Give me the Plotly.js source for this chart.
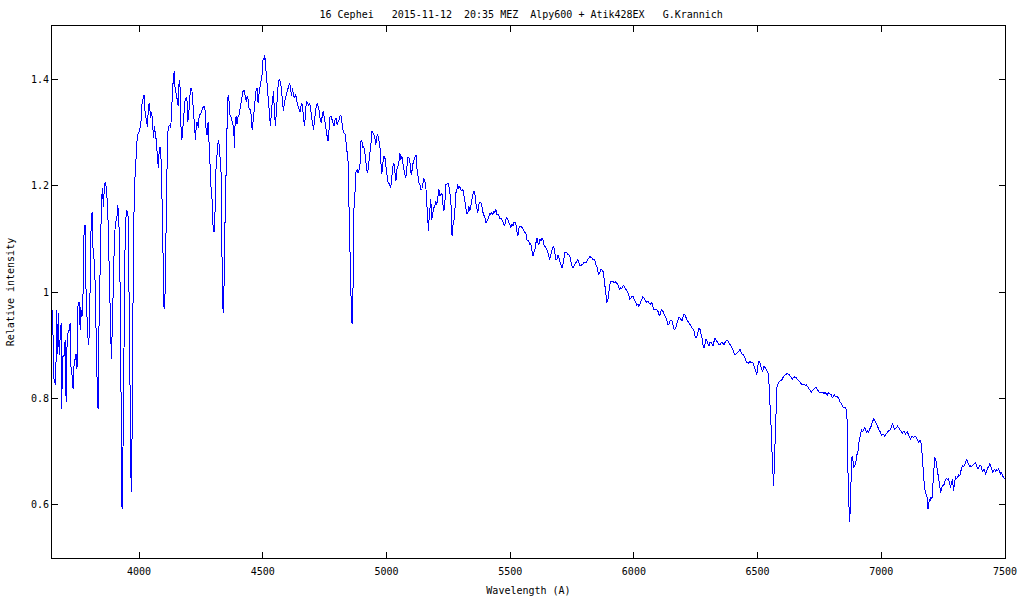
<!DOCTYPE html>
<html>
<head>
<meta charset="utf-8">
<script src="https://cdn.plot.ly/plotly-3.0.1.min.js"></script>
<style>
html,body{margin:0;padding:0;background:#fff;}
#chart{width:1024px;height:600px;}
.scatterlayer .js-line{shape-rendering:crispEdges;}
</style>
</head>
<body>
<div id="chart"></div>
<script>
// Wavelength (Angstrom) and relative intensity, in segments
const wlUV = [3647,3651,3654,3658,3663,3667,3671,3674,3677,3681,3685,3687,3691,3697,3701,3705,3708,3712,3717,3721,3724,3729,3733,3737,3741,3745,3749,3752,3758,3762,3764,3768,3772,3775,3778,3782,3784,3790,3795,3799,3802,3806,3810,3814,3820,3824,3828,3832,3834,3838,3844,3848,3852,3856,3860,3865,3871,3875,3879,3884,3888,3892,3896,3900,3904,3910,3914,3918,3922,3926,3929,3931,3934,3935,3939,3943,3948,3952,3956,3958,3962,3965,3968,3970,3973,3977,3981,3985,3989,3993,3997,4001,4005,4008,4012,4016,4020,4024,4030,4034,4038,4042,4046,4050,4054,4058,4062,4066,4070,4074,4078,4081,4085,4089,4093,4096,4098,4101,4105,4108,4111,4115,4119,4123,4128,4132,4136,4142,4146,4150,4154,4158,4162,4165,4169,4173,4177,4181,4185,4189,4193,4197,4201,4205,4209,4213,4216,4220,4224,4228,4232,4236,4240,4243,4248,4252,4256,4260,4264,4268,4271,4275,4279,4283,4287,4291,4295,4299,4303,4307,4311,4315,4320,4324,4328,4332,4334,4336,4340,4342];
const intUV = [0.928,0.966,0.840,0.834,0.825,0.966,0.884,0.960,0.881,0.916,0.941,0.781,0.878,0.881,0.909,0.793,0.891,0.922,0.928,0.941,0.862,0.844,0.818,0.862,0.875,0.884,0.856,0.972,0.982,0.928,0.972,0.953,0.960,1.041,1.123,1.126,1.026,0.947,0.900,0.922,1.044,1.123,1.151,1.079,1.051,0.991,0.869,0.797,0.781,0.935,1.082,1.173,1.195,1.160,1.204,1.207,1.173,1.129,1.047,0.938,0.875,0.938,1.060,1.094,1.129,1.138,1.164,1.138,1.066,0.922,0.706,0.593,0.593,0.706,0.897,1.076,1.154,1.151,1.142,1.057,0.869,0.671,0.624,0.633,0.853,1.076,1.195,1.233,1.264,1.295,1.298,1.302,1.311,1.323,1.355,1.361,1.371,1.339,1.317,1.311,1.352,1.355,1.327,1.339,1.323,1.289,1.311,1.295,1.283,1.254,1.233,1.264,1.273,1.248,1.185,1.110,1.004,0.969,0.997,1.113,1.242,1.295,1.311,1.314,1.308,1.358,1.386,1.416,1.377,1.374,1.361,1.349,1.399,1.392,1.314,1.286,1.308,1.333,1.358,1.364,1.367,1.320,1.336,1.367,1.383,1.383,1.364,1.323,1.308,1.286,1.320,1.317,1.308,1.333,1.333,1.339,1.345,1.349,1.349,1.339,1.302,1.295,1.320,1.267,1.233,1.195,1.173,1.123,1.113,1.151,1.233,1.261,1.286,1.276,1.242,1.220,1.148,1.007,0.960,0.969];

const wlBlue = [4346,4350,4354,4358,4362,4367,4371,4375,4379,4383,4385,4388,4392,4396,4400,4404,4408,4412,4416,4420,4424,4429,4433,4437,4441,4445,4449,4453,4457,4461,4465,4469,4473,4477,4481,4485,4489,4493,4497,4500,4503,4505,4508,4511,4515,4519,4523,4527,4531,4535,4539,4543,4547,4551,4555,4559,4563,4567,4571,4575,4579,4583,4588,4592,4596,4600,4604,4608,4612,4616,4620,4624,4628,4632,4636,4640,4644,4648,4652,4656,4660,4664,4668,4672,4676,4681,4685,4689,4693,4697,4701,4705,4708,4712,4716,4720,4724,4728,4732,4736,4740,4744,4748,4752,4756,4760,4764,4768,4772,4776,4780,4784,4788,4792,4796,4800,4805,4809,4813,4817,4821,4825,4829,4833,4837,4841,4845,4848,4852,4856,4858,4861,4864,4866,4869,4873,4877,4881,4885,4889,4893,4896,4900,4904,4908,4912,4916,4920,4924,4929,4933,4937,4941,4945,4949,4953,4957,4961,4965,4969,4973,4977,4981,4985,4989,4993,4997,5001,5005,5009,5013,5017,5022,5026,5030,5034,5038,5042,5046,5050];
const intBlue = [1.102,1.218,1.330,1.365,1.371,1.333,1.330,1.324,1.315,1.305,1.271,1.315,1.330,1.315,1.330,1.333,1.346,1.355,1.365,1.377,1.380,1.368,1.358,1.368,1.362,1.343,1.343,1.333,1.305,1.321,1.346,1.368,1.380,1.384,1.355,1.374,1.384,1.399,1.409,1.434,1.440,1.437,1.446,1.427,1.402,1.374,1.349,1.318,1.312,1.340,1.368,1.377,1.340,1.312,1.340,1.371,1.396,1.399,1.396,1.384,1.365,1.340,1.358,1.365,1.371,1.377,1.387,1.393,1.384,1.368,1.384,1.368,1.365,1.371,1.365,1.352,1.349,1.340,1.340,1.355,1.352,1.333,1.312,1.330,1.358,1.355,1.352,1.355,1.346,1.330,1.318,1.305,1.318,1.340,1.349,1.355,1.346,1.340,1.324,1.318,1.330,1.340,1.330,1.315,1.302,1.293,1.283,1.302,1.330,1.330,1.324,1.315,1.312,1.324,1.327,1.315,1.321,1.324,1.333,1.330,1.315,1.302,1.299,1.296,1.280,1.265,1.243,1.171,1.071,0.977,0.964,0.939,0.970,1.071,1.168,1.189,1.227,1.230,1.224,1.230,1.240,1.283,1.286,1.271,1.274,1.265,1.246,1.230,1.224,1.252,1.261,1.277,1.302,1.299,1.296,1.290,1.277,1.293,1.296,1.286,1.277,1.246,1.221,1.240,1.255,1.255,1.240,1.224,1.208,1.205,1.202,1.196,1.224,1.236,1.243,1.224,1.208,1.230,1.236,1.243];

const wlGreen = [5054,5058,5062,5066,5070,5074,5078,5082,5086,5090,5094,5098,5102,5105,5109,5113,5117,5120,5123,5127,5131,5135,5139,5143,5147,5151,5155,5159,5162,5166,5170,5172,5176,5179,5183,5187,5191,5195,5199,5203,5207,5212,5216,5220,5224,5228,5232,5236,5240,5244,5248,5252,5256,5260,5263,5265,5268,5272,5276,5280,5284,5288,5292,5296,5300,5305,5309,5313,5317,5321,5325,5329,5333,5337,5341,5345,5349,5353,5357,5360,5362,5365,5369,5373,5377,5381,5385,5389,5393,5397,5402,5406,5410,5414,5418,5422,5426,5430,5434,5438,5442,5446,5450,5454,5458,5462,5466,5470,5474,5478,5482,5486,5490,5495,5499,5503,5507,5511,5515,5519,5523,5527,5530,5532,5536,5540,5544,5548,5552,5557,5561,5565,5567,5571,5575,5579,5583,5588,5592,5596,5600,5604,5608,5612,5616,5620,5624,5628,5632,5636,5640,5644,5648,5652,5656,5660,5664,5668,5672,5676,5680,5685,5689,5693,5697,5701,5705,5709,5713,5717,5721,5725,5729,5733,5737,5741,5745,5749,5753,5757,5761,5765,5770,5774,5778,5782,5786,5790,5794,5798,5802,5806,5810,5814,5818,5822,5826,5830,5834,5838,5842,5846,5850,5854,5858,5862,5866,5871,5875,5879,5883,5887,5891,5895,5899,5903,5907,5911,5915,5919];
const intGreen = [1.261,1.249,1.255,1.240,1.227,1.221,1.214,1.230,1.252,1.252,1.249,1.224,1.221,1.240,1.243,1.252,1.255,1.258,1.233,1.211,1.205,1.202,1.193,1.193,1.208,1.214,1.208,1.199,1.174,1.136,1.114,1.136,1.174,1.174,1.136,1.152,1.158,1.161,1.171,1.164,1.177,1.193,1.180,1.183,1.186,1.164,1.152,1.168,1.202,1.202,1.205,1.199,1.186,1.174,1.133,1.105,1.124,1.130,1.149,1.186,1.190,1.202,1.193,1.199,1.193,1.190,1.193,1.183,1.168,1.161,1.146,1.149,1.161,1.152,1.164,1.168,1.183,1.190,1.186,1.180,1.164,1.155,1.149,1.164,1.168,1.168,1.164,1.152,1.143,1.143,1.130,1.133,1.136,1.143,1.149,1.146,1.149,1.146,1.152,1.149,1.155,1.146,1.146,1.143,1.139,1.139,1.136,1.133,1.127,1.124,1.136,1.139,1.136,1.130,1.124,1.121,1.127,1.124,1.130,1.131,1.127,1.117,1.105,1.108,1.121,1.124,1.124,1.121,1.117,1.114,1.111,1.108,1.099,1.096,1.096,1.089,1.092,1.077,1.067,1.074,1.080,1.092,1.102,1.092,1.089,1.099,1.096,1.102,1.099,1.089,1.086,1.083,1.080,1.074,1.064,1.061,1.070,1.080,1.083,1.086,1.074,1.061,1.061,1.070,1.064,1.058,1.055,1.045,1.052,1.067,1.074,1.074,1.074,1.070,1.070,1.067,1.055,1.049,1.045,1.049,1.052,1.055,1.058,1.061,1.055,1.049,1.049,1.052,1.052,1.055,1.055,1.055,1.058,1.061,1.064,1.067,1.064,1.064,1.061,1.061,1.061,1.052,1.049,1.039,1.033,1.036,1.042,1.042,1.039,1.027,1.011,0.992,0.980,0.986,1.005,1.014,1.020,1.020,1.020,1.017];

const wlRed = [5923,5927,5931,5935,5939,5943,5947,5951,5955,5959,5964,5968,5972,5976,5980,5984,5988,5992,5996,6000,6004,6008,6012,6016,6020,6024,6028,6032,6036,6040,6044,6048,6052,6057,6061,6065,6069,6073,6077,6081,6085,6089,6093,6097,6101,6105,6109,6113,6117,6121,6125,6129,6133,6137,6141,6145,6150,6154,6158,6162,6166,6170,6174,6178,6182,6186,6190,6194,6198,6202,6206,6210,6214,6218,6222,6226,6230,6234,6238,6243,6247,6251,6255,6259,6263,6267,6271,6275,6279,6283,6287,6291,6295,6299,6303,6307,6311,6315,6319,6323,6327,6331,6336,6340,6344,6348,6352,6356,6360,6364,6368,6372,6376,6380,6384,6388,6392,6396,6400,6404,6408,6412,6416,6420,6424,6429,6433,6437,6441,6445,6449,6453,6457,6461,6465,6469,6473,6477,6481,6485,6489,6493,6497,6501,6505,6509,6513,6517,6521,6526,6530,6534,6538,6542,6546,6548,6551,6554,6557,6559,6562,6565,6567,6570,6573,6575,6578,6581,6583,6587,6592,6596,6600,6604,6608,6612,6616,6620,6624,6628,6632,6636,6640,6644,6648,6652,6656,6660,6664,6668,6672,6676,6680,6685,6689,6693,6697,6701,6705,6709,6713,6717,6721,6725,6729,6733,6737,6741,6745,6749,6753,6757,6761,6765,6769,6773,6778,6782,6786,6790,6794,6798,6802,6806,6810,6814,6818,6822,6826,6830,6834,6838,6842,6846];
const intRed = [1.017,1.019,1.016,1.014,1.008,1.005,1.008,1.006,1.011,1.012,1.008,1.005,1.002,0.999,0.993,0.986,0.989,0.992,0.992,0.987,0.983,0.980,0.975,0.977,0.973,0.977,0.981,0.987,0.991,0.989,0.986,0.983,0.980,0.983,0.978,0.977,0.978,0.980,0.973,0.967,0.968,0.966,0.967,0.964,0.958,0.955,0.964,0.967,0.964,0.960,0.956,0.952,0.948,0.939,0.939,0.945,0.947,0.945,0.939,0.930,0.930,0.933,0.942,0.948,0.952,0.952,0.948,0.945,0.952,0.958,0.958,0.952,0.948,0.945,0.942,0.939,0.936,0.933,0.930,0.927,0.917,0.914,0.917,0.927,0.933,0.930,0.923,0.914,0.901,0.895,0.901,0.911,0.908,0.901,0.898,0.905,0.906,0.903,0.898,0.905,0.914,0.911,0.908,0.905,0.901,0.901,0.905,0.906,0.903,0.901,0.905,0.908,0.910,0.908,0.905,0.901,0.898,0.895,0.892,0.886,0.883,0.883,0.886,0.887,0.889,0.892,0.887,0.883,0.883,0.880,0.876,0.870,0.867,0.868,0.866,0.870,0.867,0.868,0.867,0.861,0.854,0.851,0.845,0.861,0.870,0.867,0.858,0.854,0.851,0.861,0.858,0.854,0.851,0.848,0.829,0.811,0.786,0.761,0.723,0.685,0.648,0.635,0.667,0.711,0.761,0.798,0.820,0.826,0.829,0.831,0.833,0.834,0.836,0.841,0.843,0.845,0.846,0.847,0.845,0.845,0.842,0.839,0.836,0.839,0.841,0.839,0.839,0.836,0.834,0.833,0.831,0.829,0.826,0.826,0.826,0.824,0.826,0.823,0.820,0.816,0.814,0.812,0.814,0.817,0.818,0.820,0.820,0.817,0.814,0.812,0.812,0.811,0.812,0.811,0.809,0.811,0.808,0.806,0.811,0.809,0.808,0.808,0.801,0.804,0.808,0.804,0.803,0.804,0.801,0.798,0.792,0.791,0.786,0.783];

const wlNIR = [6853,6857,6861,6864,6866,6869,6872,6875,6877,6880,6883,6885,6889,6893,6897,6902,6906,6908,6912,6916,6920,6924,6928,6933,6937,6941,6945,6949,6953,6957,6961,6965,6969,6973,6977,6981,6985,6989,6993,6997,7001,7005,7009,7013,7017,7021,7025,7030,7034,7038,7042,7046,7050,7054,7058,7062,7066,7070,7074,7078,7082,7086,7090,7094,7098,7102,7106,7110,7114,7118,7123,7127,7131,7135,7139,7143,7147,7151,7155,7159,7162,7164,7168,7172,7176,7180,7185,7189,7191,7194,7197,7201,7205,7207,7210,7213,7216,7220,7224,7228,7232,7236,7240,7244,7248,7252,7256,7260,7264,7268,7272,7276,7280,7284,7288,7292,7296,7300,7304,7309,7313,7317,7321,7325,7329,7333,7337,7341,7345,7349,7353,7357,7361,7365,7369,7373,7377,7381,7385,7389,7393,7397,7402,7406,7410,7414,7418,7422,7426,7430,7434,7438,7442,7446,7450,7454,7458,7462,7466,7470,7474,7478,7482,7486,7490,7494,7497];
const intNIR = [0.783,0.781,0.767,0.723,0.636,0.598,0.567,0.598,0.661,0.686,0.692,0.686,0.670,0.673,0.679,0.695,0.701,0.714,0.726,0.733,0.742,0.737,0.742,0.745,0.739,0.736,0.739,0.736,0.743,0.745,0.751,0.758,0.762,0.759,0.754,0.749,0.747,0.743,0.739,0.736,0.729,0.733,0.733,0.729,0.731,0.736,0.737,0.739,0.741,0.742,0.748,0.753,0.745,0.742,0.743,0.745,0.748,0.745,0.742,0.739,0.736,0.734,0.739,0.737,0.733,0.736,0.737,0.731,0.726,0.723,0.728,0.728,0.726,0.729,0.728,0.724,0.720,0.717,0.720,0.720,0.714,0.698,0.673,0.648,0.629,0.620,0.614,0.592,0.601,0.610,0.607,0.614,0.612,0.623,0.648,0.673,0.689,0.686,0.676,0.661,0.648,0.636,0.623,0.632,0.636,0.636,0.645,0.648,0.649,0.648,0.649,0.639,0.632,0.642,0.648,0.626,0.648,0.654,0.648,0.654,0.656,0.654,0.664,0.670,0.673,0.672,0.676,0.679,0.686,0.679,0.676,0.672,0.673,0.672,0.674,0.676,0.679,0.679,0.674,0.667,0.670,0.673,0.674,0.664,0.661,0.667,0.664,0.657,0.664,0.670,0.670,0.679,0.673,0.664,0.661,0.664,0.667,0.662,0.666,0.664,0.667,0.664,0.657,0.661,0.654,0.654,0.649];

const xTicks = [4000,4500,5000,5500,6000,6500,7000,7500];
const yTicks = [0.6,0.8,1,1.2,1.4];
const yTickText = ['0.6','0.8','1','1.2','1.4'];
const titleText = '16 Cephei   2015-11-12  20:35 MEZ  Alpy600 + Atik428EX   G.Krannich';

const wavelength = [].concat(wlUV, wlBlue, wlGreen, wlRed, wlNIR);
const intensity = [].concat(intUV, intBlue, intGreen, intRed, intNIR);

const mono = 'DejaVu Sans Mono, Liberation Mono, monospace';

const trace = {
  x: wavelength,
  y: intensity,
  type: 'scatter',
  mode: 'lines',
  line: {color: '#0000ff', width: 1},
  hoverinfo: 'skip'
};

const axisCommon = {
  showgrid: false,
  zeroline: false,
  showline: true,
  linecolor: '#000',
  linewidth: 1,
  mirror: 'ticks',
  ticks: 'inside',
  ticklen: 6,
  tickwidth: 1,
  tickcolor: '#000',
  tickfont: {family: mono, size: 10, color: '#000'}
};

const layout = {
  width: 1024,
  height: 600,
  margin: {l: 52, r: 19, t: 26, b: 42, pad: 0},
  paper_bgcolor: '#ffffff',
  plot_bgcolor: '#ffffff',
  showlegend: false,
  font: {family: mono, size: 10, color: '#000'},
  title: {
    text: titleText.replace(/ /g, '\u00A0'),
    font: {family: mono, size: 10, color: '#000'},
    xref: 'container', x: 0.509, xanchor: 'center',
    yref: 'container', y: 1 - 14/600, yanchor: 'middle'
  },
  xaxis: Object.assign({}, axisCommon, {
    range: [3648, 7500],
    tickmode: 'array',
    tickvals: xTicks,
    ticktext: xTicks.map(String),
    ticklabelstandoff: 4,
    title: {text: 'Wavelength (A)', font: {family: mono, size: 10, color: '#000'}, standoff: 10}
  }),
  yaxis: Object.assign({}, axisCommon, {
    range: [0.5, 1.5],
    tickmode: 'array',
    tickvals: yTicks,
    ticktext: yTickText,
    title: {text: 'Relative intensity', font: {family: mono, size: 10, color: '#000'}, standoff: 14}
  })
};

Plotly.newPlot('chart', [trace], layout, {staticPlot: true, displayModeBar: false});
</script>
</body>
</html>
